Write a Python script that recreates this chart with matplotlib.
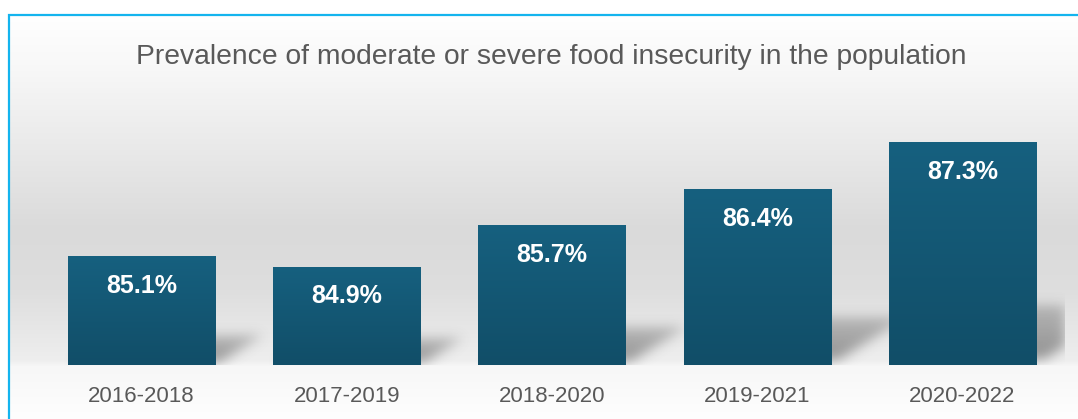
import numpy as np
import matplotlib
matplotlib.use("Agg")
import matplotlib.pyplot as plt
from matplotlib.patches import Rectangle
from matplotlib.colors import LinearSegmentedColormap

# data
periods = ["2016-2018", "2017-2019", "2018-2020", "2019-2021", "2020-2022"]
prevalence = [85.1, 84.9, 85.7, 86.4, 87.3]
TITLE = "Prevalence of moderate or severe food insecurity in the population"

YMIN, YMAX = 83.0, 88.0
BAR_W = 0.717
BAR_TOP = "#16607f"
BAR_BOT = "#114e68"
BORDER = "#14b4ee"
FONT = "Liberation Sans"

W, H = 1078, 419
fig = plt.figure(figsize=(W / 100, H / 100), dpi=100)
fig.patch.set_facecolor("white")

# background panel with grey gradient, inside the blue border
bg = fig.add_axes([9 / W, 0, 1 - 9 / W, (H - 15) / H], zorder=0)
bg.set_axis_off()
stops_y = [0, 45, 135, 215, 275, 345, 351, 404]  # px from top of panel
stops_c = [255, 249, 233, 218, 222, 238, 247, 254]
rows = np.interp(np.arange(404), stops_y, stops_c) / 255.0
grad = np.repeat(rows[:, None], 4, axis=1)
bg.imshow(np.dstack([grad, grad, grad]), aspect="auto", extent=[0, 1, 0, 1],
          interpolation="bilinear")
bg.set_xlim(0, 1)
bg.set_ylim(0, 1)

fig.patches.append(Rectangle((9 / W, -0.1), 1.2, (H - 15) / H + 0.1,
                             transform=fig.transFigure, fill=False,
                             edgecolor=BORDER, linewidth=1.6, zorder=5))

ax = fig.add_axes([39 / W, 54 / H, (1065 - 39) / W, (365 - 106) / H], zorder=1)
ax.patch.set_alpha(0)
x = np.arange(len(periods))
ax.set_xlim(-0.5, len(periods) - 0.5)
ax.set_ylim(YMIN, YMAX)


def blur(a, sigma):
    k = np.exp(-0.5 * (np.arange(-3 * sigma, 3 * sigma + 1) / sigma) ** 2)
    k /= k.sum()
    a = np.apply_along_axis(lambda r: np.convolve(r, k, mode="same"), 1, a)
    a = np.apply_along_axis(lambda c: np.convolve(c, k, mode="same"), 0, a)
    return a


# soft perspective shadows behind the bars
gx = np.linspace(-0.5, len(periods) - 0.5, 1026)
gy = np.linspace(YMIN, YMAX, 259)
X, Y = np.meshgrid(gx, gy)
shade = np.zeros_like(X)
for xi, v in zip(x, prevalence):
    h = v - YMIN
    sh = 0.27 * h
    dx = 0.11 * h
    t = (Y - YMIN) / sh
    xs = X - t * dx
    left = xi - BAR_W / 2
    right = xi + BAR_W / 2
    inside = (xs >= left) & (xs <= right) & (t >= 0.1) & (t <= 1.0)
    shade = np.maximum(shade, inside * (1 - 0.5 * t))
shade = blur(shade, 6)
rgba = np.zeros(X.shape + (4,))
rgba[..., :3] = 0.3
rgba[..., 3] = 0.6 * shade
ax.imshow(rgba, origin="lower", aspect="auto", interpolation="bilinear",
          extent=[gx[0], gx[-1], YMIN, YMAX], zorder=1)

bars = ax.bar(x, [v - YMIN for v in prevalence], bottom=YMIN, width=BAR_W,
              color=BAR_BOT, zorder=2)
cmap = LinearSegmentedColormap.from_list("bar", [BAR_BOT, BAR_TOP])
for b in bars:
    x0, y0 = b.get_x(), b.get_y()
    im = ax.imshow(np.linspace(0, 1, 100).reshape(-1, 1), cmap=cmap, origin="lower",
                   aspect="auto", extent=[x0, x0 + b.get_width(), y0, y0 + b.get_height()],
                   zorder=3)
    im.set_clip_path(b)

for xi, v in zip(x, prevalence):
    ax.annotate(f"{v}%", (xi, v), xytext=(0, -21.5), textcoords="offset points",
                ha="center", va="center", color="white", fontsize=18,
                fontweight="bold", family=FONT, zorder=4)

ax.set_xlim(-0.5, len(periods) - 0.5)
ax.set_ylim(YMIN, YMAX)
ax.set_xticks(x)
ax.set_xticklabels(periods, family=FONT, fontsize=16, color="#595959")
ax.tick_params(axis="x", length=0, pad=15)
ax.set_yticks([])
for s in ax.spines.values():
    s.set_visible(False)

fig.text(551 / W, 1 - 57 / H, TITLE, ha="center", va="center", family=FONT,
         fontsize=20.3, color="#595959")

fig.savefig("out.png", dpi=100)
